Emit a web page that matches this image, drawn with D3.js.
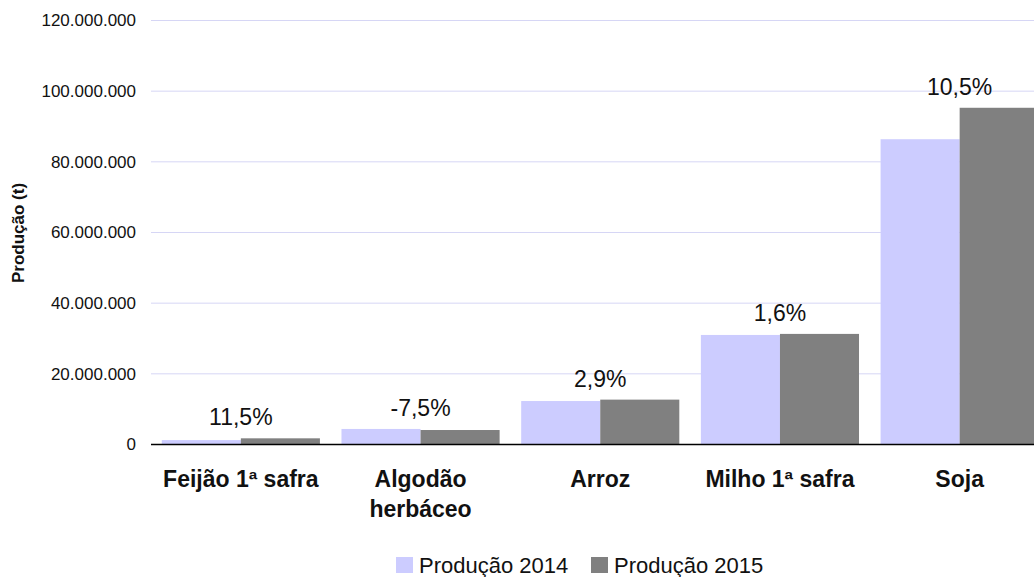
<!DOCTYPE html>
<html>
<head>
<meta charset="utf-8">
<script src="https://cdn.jsdelivr.net/npm/d3@7"></script>
<style>
  body { margin: 0; background: #fff; }
  svg { display: block; font-family: "Liberation Sans", Arial, sans-serif; }
</style>
</head>
<body>
<div id="chart"></div>
<script>
// data
var categories = ["Feijão 1ª safra", "Algodão herbáceo", "Arroz", "Milho 1ª safra", "Soja"];
var categoryLines = [["Feijão 1ª safra"], ["Algodão", "herbáceo"], ["Arroz"], ["Milho 1ª safra"], ["Soja"]];
var seriesNames = ["Produção 2014", "Produção 2015"];
var prod2014 = [1250000, 4400000, 12300000, 31000000, 86400000];
var prod2015 = [1750000, 4100000, 12700000, 31300000, 95300000];
var changeLabels = ["11,5%", "-7,5%", "2,9%", "1,6%", "10,5%"];
var yTicks = [0, 20000000, 40000000, 60000000, 80000000, 100000000, 120000000];
var colors = ["#ccccff", "#808080"];

var width = 1034, height = 577;
var left = 151, step = 179.7;

var svg = d3.select('#chart').append('svg')
    .attr('width', width)
    .attr('height', height);

var y = d3.scaleLinear()
    .domain([0, 120000000])
    .range([444.5, 20.5]);

var x0 = d3.scaleBand()
    .domain(categories)
    .range([left, left + step * categories.length])
    .paddingInner(0.12)
    .paddingOuter(0.06);

var x1 = d3.scaleBand()
    .domain(seriesNames)
    .range([0, x0.bandwidth()]);

var color = d3.scaleOrdinal().domain(seriesNames).range(colors);

var ptBR = d3.formatLocale({ decimal: ",", thousands: ".", grouping: [3], currency: ["", ""] });
var fmt = ptBR.format(",d");

// gridlines
svg.append('g').selectAll('line')
    .data(yTicks.filter(d => d > 0))
    .enter().append('line')
    .attr('x1', left).attr('x2', width)
    .attr('y1', d => y(d)).attr('y2', d => y(d))
    .attr('stroke', '#d6d6f5')
    .attr('stroke-width', 1);

// y axis labels
var yAxis = svg.append('g')
    .attr('transform', 'translate(' + left + ',0)')
    .call(d3.axisLeft(y).tickValues(yTicks).tickSize(0).tickPadding(15).tickFormat(fmt));
yAxis.select('.domain').remove();
yAxis.selectAll('text')
    .attr('font-size', 17)
    .attr('font-family', '"Liberation Sans", Arial, sans-serif')
    .attr('fill', '#111');

// y title
svg.append('text')
    .attr('transform', 'translate(24,233) rotate(-90)')
    .attr('text-anchor', 'middle')
    .attr('font-size', 17)
    .attr('font-weight', 'bold')
    .attr('fill', '#111')
    .text('Produção (t)');

// bars
var rows = categories.map((c, i) => ({ cat: c, vals: [prod2014[i], prod2015[i]] }));

var groups = svg.append('g').selectAll('g')
    .data(rows)
    .enter().append('g')
    .attr('transform', d => 'translate(' + x0(d.cat) + ',0)');

groups.selectAll('rect')
    .data(d => d.vals.map((v, j) => ({ key: seriesNames[j], value: v })))
    .enter().append('rect')
    .attr('x', d => x1(d.key))
    .attr('width', x1.bandwidth())
    .attr('y', d => y(d.value))
    .attr('height', d => y(0) - y(d.value))
    .attr('fill', d => color(d.key));

// change labels
groups.append('text')
    .attr('x', x0.bandwidth() / 2)
    .attr('y', d => y(d3.max(d.vals)) - 13)
    .attr('text-anchor', 'middle')
    .attr('font-size', 23)
    .attr('fill', '#111')
    .text((d, i) => changeLabels[i]);

// x axis line
svg.append('line')
    .attr('x1', left).attr('x2', width)
    .attr('y1', y(0)).attr('y2', y(0))
    .attr('stroke', '#000')
    .attr('stroke-width', 1.5);

// category labels
var catText = svg.append('g').selectAll('text')
    .data(categories)
    .enter().append('text')
    .attr('x', d => x0(d) + x0.bandwidth() / 2)
    .attr('y', 487)
    .attr('text-anchor', 'middle')
    .attr('font-size', 23)
    .attr('font-weight', 'bold')
    .attr('fill', '#111');

catText.selectAll('tspan')
    .data((d, i) => categoryLines[i])
    .enter().append('tspan')
    .attr('x', function () { return d3.select(this.parentNode).attr('x'); })
    .attr('dy', (d, i) => i === 0 ? 0 : 30)
    .text(d => d);

// legend
var legendX = [396, 591];
var legend = svg.append('g').selectAll('g')
    .data(seriesNames)
    .enter().append('g')
    .attr('transform', (d, i) => 'translate(' + legendX[i] + ',557)');

legend.append('rect')
    .attr('width', 17).attr('height', 16)
    .attr('fill', d => color(d));

legend.append('text')
    .attr('x', 23)
    .attr('y', 16)
    .attr('font-size', 22)
    .attr('fill', '#111')
    .text(d => d);
</script>
</body>
</html>
